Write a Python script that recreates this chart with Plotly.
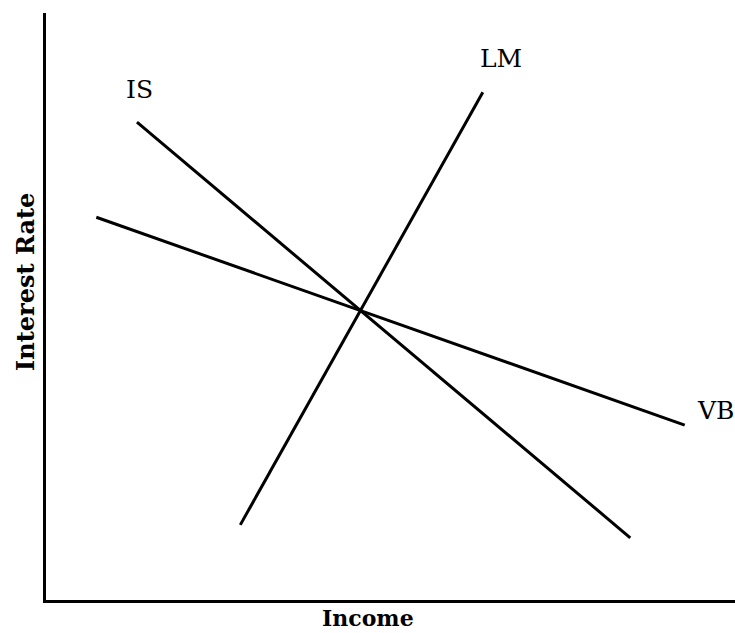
import plotly.graph_objects as go

# Curve endpoints (Income, Interest Rate) in arbitrary 0-100 units
is_x = [13.2, 84.8]
is_y = [81.4, 10.6]
lm_x = [28.2, 63.4]
lm_y = [12.8, 86.5]
vb_x = [7.3, 92.7]
vb_y = [65.2, 29.8]

curve_names = ["IS", "LM", "VB"]
label_x = [13.6, 66.0, 97.1]
label_y = [86.9, 92.2, 32.2]

x_title = "Income"
y_title = "Interest Rate"

fig = go.Figure()
line_style = dict(color="black", width=3)
for xs, ys, name in [(is_x, is_y, "IS"), (lm_x, lm_y, "LM"), (vb_x, vb_y, "VB")]:
    fig.add_trace(go.Scatter(x=xs, y=ys, mode="lines", line=line_style,
                             name=name, showlegend=False, hoverinfo="skip"))

annotations = []
for name, lx, ly in zip(curve_names, label_x, label_y):
    annotations.append(dict(x=lx, y=ly, xref="x", yref="y", text=name,
                            showarrow=False,
                            font=dict(family="DejaVu Serif", size=25, color="black")))

annotations.append(dict(x=0.467, y=-0.031, xref="paper", yref="paper",
                        text="<b>" + x_title + "</b>", showarrow=False,
                        xanchor="center", yanchor="middle",
                        font=dict(family="DejaVu Serif", size=22, color="black")))
annotations.append(dict(x=-0.0305, y=0.5417, xref="paper", yref="paper",
                        text="<b>" + y_title + "</b>", showarrow=False,
                        textangle=-90, xanchor="center", yanchor="middle",
                        font=dict(family="DejaVu Serif", size=24, color="black")))

fig.update_layout(
    width=735, height=633,
    margin=dict(l=46, r=0, t=13, b=33),
    paper_bgcolor="white", plot_bgcolor="white",
    annotations=annotations,
    xaxis=dict(range=[0, 100], showgrid=False, zeroline=False, showticklabels=False,
               ticks="", showline=True, linecolor="black", linewidth=3, fixedrange=True),
    yaxis=dict(range=[0, 100], showgrid=False, zeroline=False, showticklabels=False,
               ticks="", showline=True, linecolor="black", linewidth=3, fixedrange=True),
)

fig.write_html(
    "out.html",
    config={"displayModeBar": False},
    post_script="document.body.style.margin='0';document.body.style.overflow='hidden';",
)
